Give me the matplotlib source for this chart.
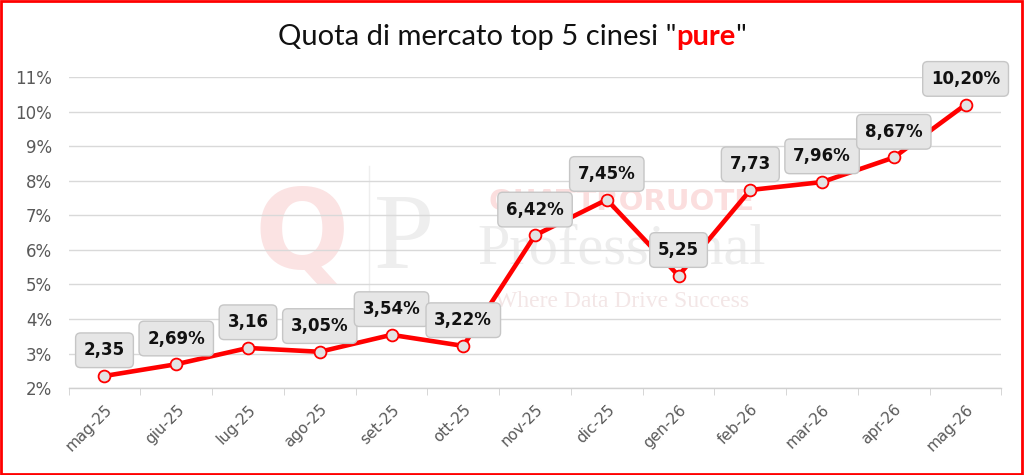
import matplotlib.pyplot as plt
from matplotlib.patches import Rectangle

# data
months = ['mag-25', 'giu-25', 'lug-25', 'ago-25', 'set-25', 'ott-25', 'nov-25',
          'dic-25', 'gen-26', 'feb-26', 'mar-26', 'apr-26', 'mag-26']
quota = [2.35, 2.69, 3.16, 3.05, 3.54, 3.22, 6.42, 7.45, 5.25, 7.73, 7.96, 8.67, 10.20]
labels = ['2,35', '2,69%', '3,16', '3,05%', '3,54%', '3,22%', '6,42%', '7,45%',
          '5,25', '7,73', '7,96%', '8,67%', '10,20%']
yticks = [2, 3, 4, 5, 6, 7, 8, 9, 10, 11]

fig = plt.figure(figsize=(10.24, 4.75), dpi=100)
ax = fig.add_axes([0.067, 0.183, 0.911, 0.655])

x = list(range(len(months)))

# faint watermark, drawn behind the data
tf = fig.transFigure
ax.text(0.295, 0.5, 'Q', transform=tf, fontsize=80, fontweight='bold', color='#fbe3e3',
        ha='center', va='center', family='DejaVu Sans', zorder=0)
ax.plot([0.36, 0.36], [0.37, 0.65], transform=tf, color='#eeeeee', lw=1, zorder=0)
ax.text(0.395, 0.49, 'P', transform=tf, fontsize=78, color='#eeeeee',
        ha='center', va='center', family='Liberation Serif', zorder=0)
ax.text(0.607, 0.575, 'QUATTRORUOTE', transform=tf, fontsize=21, fontweight='bold',
        color='#fbdede', ha='center', va='center', family='DejaVu Sans', zorder=0)
ax.text(0.607, 0.475, 'Professional', transform=tf, fontsize=42, color='#ededed',
        ha='center', va='center', family='Liberation Serif', zorder=0)
ax.text(0.607, 0.365, 'Where Data Drive Success', transform=tf, fontsize=17,
        color='#f3e6e6', ha='center', va='center', family='Liberation Serif', zorder=0)

ax.plot(x, quota, color='#ff0000', lw=3.3, marker='o', ms=8.5,
        mfc='#e3e3e3', mec='#ff0000', mew=1.3, zorder=3, solid_capstyle='round')

for xi, yi, lab in zip(x, quota, labels):
    ax.annotate(lab, (xi, yi), xytext=(0, 18.5), textcoords='offset points',
                ha='center', va='center', fontsize=12, fontweight='bold',
                family='DejaVu Sans', color='#111111', zorder=5,
                bbox=dict(boxstyle='round,pad=0.5,rounding_size=0.3',
                          fc='#e6e6e6', ec='#c6c6c6', lw=1))

ax.set_xlim(-0.5, len(months) - 0.5)
ax.set_ylim(2, 11)
ax.set_yticks(yticks)
ax.set_yticklabels([f'{t}%' for t in yticks])
ax.grid(axis='y', color='#d9d9d9', lw=1, zorder=1)
ax.set_axisbelow(True)
for s in ['top', 'right', 'left']:
    ax.spines[s].set_visible(False)
ax.spines['bottom'].set_color('#d0d0d0')
ax.spines['bottom'].set_linewidth(1)

ax.set_xticks(x)
ax.set_xticklabels(months, rotation=45, ha='right', rotation_mode='anchor')
ax.set_xticks([i - 0.5 for i in range(len(months) + 1)], minor=True)
ax.tick_params(axis='x', which='major', length=0, pad=10, labelsize=11, labelcolor='#595959')
ax.tick_params(axis='x', which='minor', length=5, color='#d0d0d0')
ax.tick_params(axis='y', length=0, pad=12, labelsize=12, labelcolor='#595959')

# title with red bold "pure"
fig.canvas.draw()
r = fig.canvas.get_renderer()
parts = [('Quota di mercato top 5 cinesi "', '#111111', 'normal'),
         ('pure', '#ff0000', 'bold'),
         ('"', '#111111', 'normal')]
objs = []
total = 0
for txt, col, w in parts:
    t = fig.text(0, 0.922, txt, fontsize=21, color=col, fontweight=w, family='Lato',
                 va='center', ha='left')
    wpx = t.get_window_extent(renderer=r).width
    objs.append((t, wpx))
    total += wpx
xpos = (fig.bbox.width - total) / 2
for t, wpx in objs:
    t.set_x(xpos / fig.bbox.width)
    xpos += wpx

fig.patches.append(Rectangle((0.001, 0.002), 0.997, 0.996, transform=fig.transFigure,
                             fill=False, ec='#ff0000', lw=2))

fig.savefig('out.png', dpi=100)
